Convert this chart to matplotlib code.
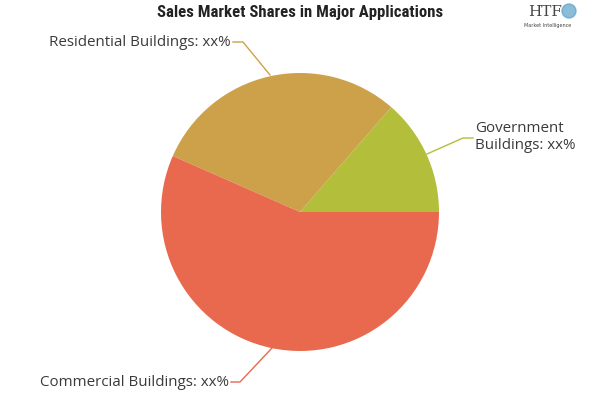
import matplotlib
matplotlib.use("Agg")
import matplotlib.pyplot as plt

categories = ["Government\nBuildings: xx%", "Residential Buildings: xx%", "Commercial Buildings: xx%"]
values = [13.6, 29.8, 56.6]
colors = ["#b3be3b", "#cca14a", "#e8694e"]
title = "Sales Market Shares in Major Applications"

fig = plt.figure(figsize=(6, 4), dpi=100)
ax = fig.add_axes([0, 0, 1, 1])

H = 400
cx, cy, r = 300, H - 212, 139
ax.pie(values, colors=colors, startangle=0, counterclock=True,
       center=(cx, cy), radius=r, frame=True,
       wedgeprops=dict(linewidth=0))
ax.set_xlim(0, 600)
ax.set_ylim(0, 400)
ax.set_aspect("equal")
ax.axis("off")

tc = "#3a3a3a"
lf = dict(fontsize=10.9, color=tc, family=["Open Sans", "DejaVu Sans"])

# Government
ax.plot([427, 463, 473], [H - 154, H - 138, H - 138], color=colors[0], lw=1)
ax.text(475, H - 137, categories[0], ha="left", va="center", linespacing=1.25, **lf)
# Residential
ax.plot([270, 243, 233], [H - 75, H - 42, H - 42], color=colors[1], lw=1)
ax.text(231, H - 42, categories[1], ha="right", va="center", **lf)
# Commercial
ax.plot([272, 240, 231], [H - 348, H - 382, H - 382], color=colors[2], lw=1)
ax.text(229, H - 382, categories[2], ha="right", va="center", **lf)

ax.text(300, H - 13, title, ha="center", va="center", fontsize=12.1,
        fontweight="black", fontstretch="condensed", color="#222222",
        family=["Roboto Condensed", "Roboto", "DejaVu Sans"])

# logo
ax.text(545, H - 12, "HTF", ha="center", va="center", fontsize=11,
        family=["DejaVu Serif"], color="#444444")
ax.text(548, H - 26, "Market Intelligence", ha="center", va="center",
        fontsize=3.5, color="#444444")
ax.add_patch(plt.Circle((569, H - 11), 7, color="#5aa0c8", alpha=0.7))

fig.savefig("out.png", dpi=100)
